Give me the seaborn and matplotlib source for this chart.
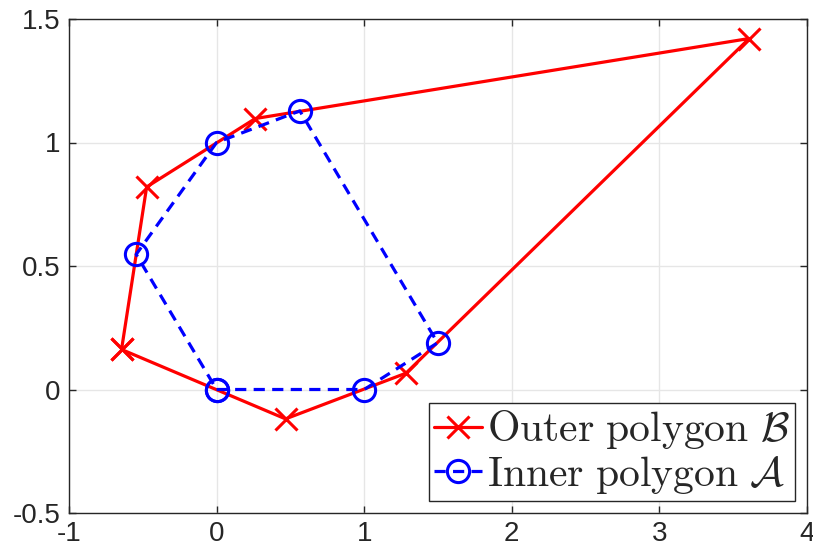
import matplotlib
matplotlib.use("Agg")
import matplotlib.pyplot as plt
import seaborn as sns
import numpy as np

outer_x = [-0.644, 0.467, 1.283, 3.608, 0.262, -0.474]
outer_y = [0.162, -0.119, 0.066, 1.421, 1.097, 0.820]
inner_x = [0.0, 1.0, 1.497, 0.564, 0.0, -0.545]
inner_y = [0.0, 0.0, 0.189, 1.128, 1.0, 0.547]
x_ticks = [-1, 0, 1, 2, 3, 4]
y_ticks = [-0.5, 0, 0.5, 1, 1.5]
x_labels = ["-1", "0", "1", "2", "3", "4"]
y_labels = ["-0.5", "0", "0.5", "1", "1.5"]

sns.set_theme(style="whitegrid")
plt.rcParams["font.family"] = ["Liberation Sans", "DejaVu Sans"]
plt.rcParams["mathtext.fontset"] = "cm"

fig = plt.figure(figsize=(8.13, 5.59), dpi=100)
ax = fig.add_axes([69 / 813, 1 - 513 / 559, (807 - 69) / 813, (513 - 19) / 559])

ox = outer_x + outer_x[:1]
oy = outer_y + outer_y[:1]
ix = inner_x + inner_x[:1]
iy = inner_y + inner_y[:1]

sns.lineplot(x=ox, y=oy, sort=False, estimator=None, ax=ax, color="#ff0000",
             linewidth=2.3, marker="x", markersize=16, markeredgewidth=2.2,
             markeredgecolor="#ff0000", label=r"$\mathrm{Outer\ polygon}\ \mathcal{B}$")
sns.lineplot(x=ix, y=iy, sort=False, estimator=None, ax=ax, color="#0000ff",
             linewidth=2.3, linestyle=(0, (3.5, 2.3)), marker="o", markersize=16,
             markerfacecolor="none", markeredgewidth=2.2, markeredgecolor="#0000ff",
             label=r"$\mathrm{Inner\ polygon}\ \mathcal{A}$")

ax.set_xlim(-1, 4)
ax.set_ylim(-0.5, 1.5)
ax.set_xticks(x_ticks)
ax.set_xticklabels(x_labels)
ax.set_yticks(y_ticks)
ax.set_yticklabels(y_labels)
ax.grid(True, color="#e6e6e6", linewidth=1.0)
for s in ax.spines.values():
    s.set_visible(True)
    s.set_color("#262626")
    s.set_linewidth(1.0)
ax.tick_params(axis="both", which="both", direction="in", length=5, width=1.0,
               color="#262626", labelsize=20, labelcolor="#262626",
               top=True, right=True, bottom=True, left=True,
               labeltop=False, labelright=False, pad=6)
ax.set_facecolor("white")

leg = ax.legend(loc="lower right", fontsize=30, frameon=True, fancybox=False,
                handlelength=1.15, handletextpad=0.12, borderpad=0.12,
                labelspacing=0.05, borderaxespad=0.3)
leg.get_frame().set_edgecolor("#262626")
leg.get_frame().set_linewidth(1.0)
leg.get_frame().set_alpha(1.0)

fig.savefig("out.png", dpi=100, facecolor="white")
